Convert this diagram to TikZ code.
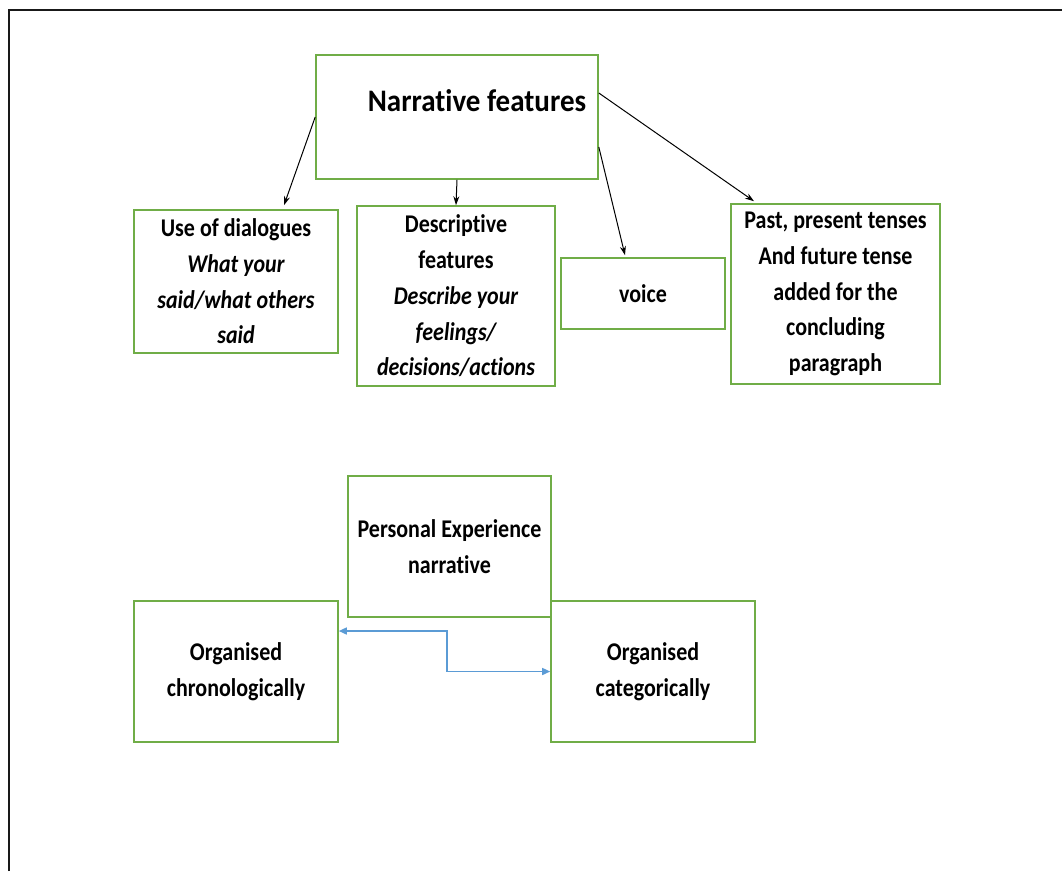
\documentclass[tikz,border=0pt]{standalone}
\usepackage{fontspec}
\usepackage{graphicx}
\setmainfont{Carlito}[Ligatures=NoCommon]
\usetikzlibrary{arrows.meta,calc}
\definecolor{boxgreen}{RGB}{112,173,71}
\definecolor{linkblue}{RGB}{91,155,213}
% one line of box text, set slightly tall
\newcommand{\sline}[1]{\scalebox{1}[1.16]{#1}}
\begin{document}
\begin{tikzpicture}[x=1pt,y=-1pt,
  box/.style={draw=boxgreen, line width=1.6pt, fill=white, inner sep=0pt,
    align=center, font=\fontsize{22}{35.7}\selectfont\bfseries},
  feat/.style={-{Stealth[length=9pt,width=6pt]}, line width=1pt, black},
  link/.style={{Triangle[length=8pt,width=7pt]}-{Triangle[length=8pt,width=7pt]},
    line width=1.5pt, linkblue}]
\useasboundingbox (0,0) rectangle (1062,871);
% page frame
\draw[line width=2.6pt, black!90] (9,871) -- (9,10) -- (1062,10);

% top: narrative features and its branches
\node[box, minimum width=282, minimum height=124] (nf) at (457,117) {};
\node[font=\fontsize{29}{34}\selectfont\bfseries, inner sep=0pt] (nft) at (477,101)
  {\scalebox{1}[1.08]{Narrative features}};

\node[box, minimum width=204, minimum height=143] (dlg) at (236,281.5)
  {\sline{Use of dialogues}\\ \sline{\itshape What your}\\
   \sline{\itshape said/what others}\\ \sline{\itshape said}};
\node[box, minimum width=198, minimum height=180] (desc) at (456,296)
  {\sline{Descriptive}\\ \sline{features}\\ \sline{\itshape Describe your}\\
   \sline{\itshape feelings/}\\ \sline{\itshape decisions/actions}};
\node[box, minimum width=164, minimum height=71] (voice) at (643,293.5) {\sline{voice}};
\node[box, minimum width=209, minimum height=180] (past) at (835.5,294)
  {\sline{Past, present tenses}\\ \sline{And future tense}\\ \sline{added for the}\\
   \sline{concluding}\\ \sline{paragraph}};

\draw[feat] (nf.west) -- ($(dlg.north)+(48,-4)$);
\draw[feat] (nf.south) -- (desc.north);
\draw[feat] ($(nf.east)+(0,30)$) -- ($(voice.north)+(-18,-2)$);
\draw[feat] ($(nf.east)+(0,-24)$) -- ($(past.north)+(-81.5,-2)$);

% bottom: personal experience narrative
\node[box, minimum width=203, minimum height=141] (pen) at (449.5,546.5)
  {\sline{Personal Experience}\\ \sline{narrative}};
\node[box, minimum width=204, minimum height=141] (chr) at (236,671.5)
  {\sline{Organised}\\ \sline{chronologically}};
\node[box, minimum width=204, minimum height=141] (cat) at (653,671.5)
  {\sline{Organised}\\ \sline{categorically}};

\draw[link] ($(chr.east)+(0,-40.5)$) -| (447,651) |- (cat.west);
\end{tikzpicture}
\end{document}
